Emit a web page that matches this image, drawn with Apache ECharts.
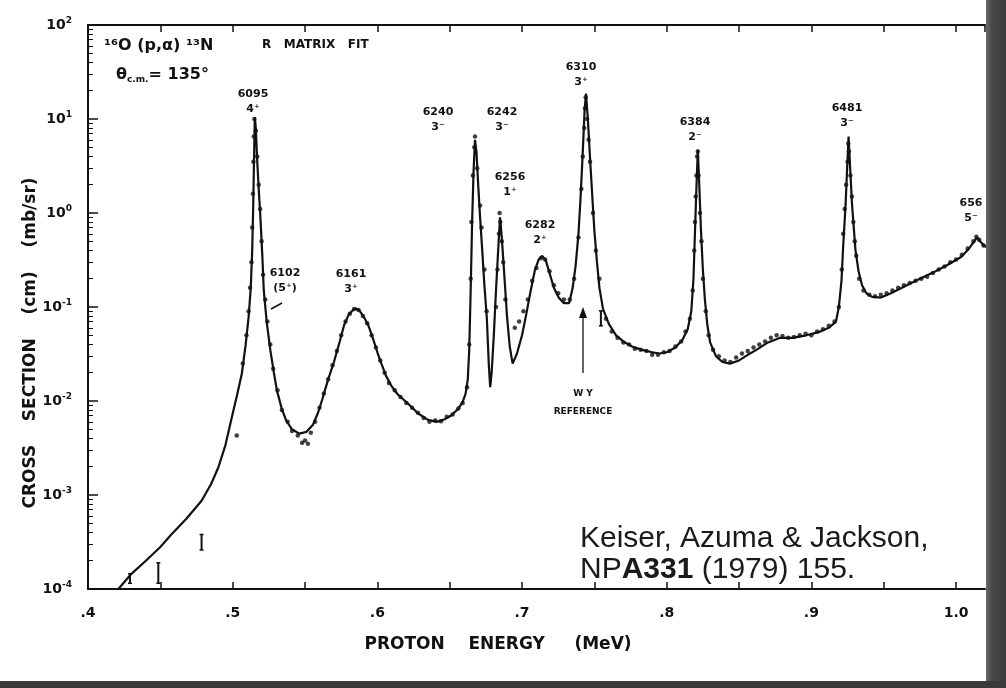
<!DOCTYPE html>
<html><head><meta charset="utf-8">
<script src="https://cdn.jsdelivr.net/npm/echarts@6/dist/echarts.min.js"></script>
<style>html,body{margin:0;padding:0;background:#fff}#c{width:1006px;height:688px}</style>
</head><body><div id="c"></div>
<script>
// R-matrix fit curve (proton energy in MeV, cross section in mb/sr)
const fitEnergy = [0.421,0.430,0.440,0.450,0.4576,0.468,0.4785,0.485,0.490,0.495,0.4993,0.503,0.5063,0.509,0.511,0.5125,0.5135,0.5142,0.5148,0.5153,0.516,0.5168,0.518,0.519,0.5205,0.5215,0.5235,0.526,0.5285,0.5306,0.534,0.537,0.541,0.546,0.551,0.5555,0.559,0.562,0.566,0.570,0.574,0.577,0.580,0.5835,0.5855,0.588,0.591,0.5937,0.597,0.600,0.6028,0.606,0.6097,0.614,0.6215,0.628,0.635,0.641,0.6465,0.651,0.656,0.659,0.661,0.6625,0.6635,0.6645,0.6655,0.6665,0.6675,0.6685,0.6697,0.671,0.6725,0.674,0.6757,0.677,0.678,0.679,0.6805,0.682,0.6835,0.6848,0.686,0.6875,0.6896,0.6915,0.6935,0.6965,0.700,0.703,0.706,0.709,0.7115,0.714,0.7165,0.719,0.722,0.7255,0.729,0.7326,0.735,0.737,0.739,0.7405,0.742,0.7432,0.7442,0.7455,0.7472,0.7488,0.750,0.7518,0.7535,0.756,0.760,0.765,0.770,0.776,0.783,0.790,0.795,0.800,0.806,0.811,0.8145,0.817,0.8185,0.8195,0.8205,0.8215,0.8225,0.8236,0.825,0.8264,0.828,0.830,0.834,0.8385,0.8437,0.850,0.856,0.862,0.870,0.8785,0.887,0.8965,0.905,0.912,0.917,0.919,0.9208,0.922,0.9236,0.9248,0.9257,0.9268,0.928,0.929,0.9305,0.9326,0.935,0.938,0.942,0.948,0.955,0.966,0.975,0.9847,0.994,1.0035,1.009,1.0125,1.0145,1.0165,1.0195,1.0215];
const fitCross = [1.0e-4,1.45e-4,2.0e-4,2.8e-4,3.8e-4,5.6e-4,8.7e-4,1.3e-3,1.95e-3,3.4e-3,6.6e-3,0.0115,0.0195,0.04,0.078,0.16,0.4,1.2,4.0,10.5,8.0,4.0,1.8,1.0,0.35,0.15,0.07,0.035,0.02,0.0129,0.0082,0.0062,0.005,0.0045,0.0047,0.0056,0.0075,0.0105,0.017,0.026,0.043,0.064,0.082,0.094,0.096,0.09,0.077,0.064,0.046,0.033,0.025,0.0185,0.0145,0.0118,0.0093,0.0074,0.0063,0.006,0.0064,0.007,0.0083,0.0098,0.012,0.017,0.035,0.15,0.8,2.8,6.0,4.5,2.0,0.9,0.4,0.17,0.075,0.025,0.014,0.02,0.05,0.15,0.4,0.9,0.55,0.25,0.08,0.038,0.025,0.032,0.05,0.085,0.15,0.25,0.32,0.35,0.31,0.23,0.16,0.125,0.11,0.11,0.16,0.27,0.6,1.5,4.5,12,18.6,10,3.4,1.3,0.65,0.3,0.16,0.095,0.066,0.05,0.043,0.038,0.035,0.033,0.032,0.033,0.037,0.045,0.058,0.09,0.2,0.6,1.8,4.7,2.0,0.7,0.25,0.12,0.066,0.042,0.03,0.026,0.025,0.027,0.031,0.035,0.042,0.047,0.047,0.05,0.054,0.06,0.07,0.1,0.19,0.45,1.2,3.2,6.5,3.0,1.3,0.8,0.4,0.24,0.17,0.14,0.128,0.126,0.14,0.17,0.2,0.235,0.28,0.34,0.42,0.5,0.55,0.5,0.45,0.43];
// measured points
const dataEnergy = [0.5028,0.507,0.5095,0.511,0.512,0.513,0.5135,0.514,0.5143,0.5146,0.515,0.516,0.517,0.518,0.519,0.520,0.521,0.5225,0.524,0.526,0.528,0.531,0.534,0.538,0.541,0.545,0.548,0.550,0.552,0.554,0.557,0.560,0.563,0.566,0.569,0.572,0.575,0.578,0.581,0.584,0.587,0.590,0.593,0.596,0.599,0.602,0.605,0.608,0.612,0.616,0.620,0.624,0.628,0.632,0.636,0.640,0.644,0.648,0.652,0.656,0.659,0.662,0.6635,0.6645,0.665,0.666,0.667,0.6675,0.669,0.671,0.672,0.674,0.6755,0.682,0.683,0.684,0.6845,0.685,0.686,0.687,0.6885,0.695,0.698,0.701,0.704,0.707,0.710,0.713,0.716,0.719,0.722,0.725,0.729,0.733,0.736,0.739,0.741,0.742,0.743,0.7435,0.744,0.745,0.746,0.747,0.749,0.751,0.7535,0.758,0.762,0.766,0.770,0.774,0.778,0.782,0.786,0.790,0.794,0.798,0.802,0.806,0.810,0.813,0.816,0.818,0.819,0.8195,0.820,0.8205,0.821,0.8215,0.822,0.823,0.824,0.825,0.827,0.829,0.832,0.836,0.840,0.844,0.848,0.852,0.856,0.860,0.864,0.868,0.872,0.876,0.880,0.884,0.888,0.892,0.896,0.900,0.904,0.908,0.912,0.916,0.919,0.921,0.922,0.923,0.924,0.925,0.9255,0.926,0.927,0.928,0.929,0.930,0.931,0.933,0.936,0.940,0.944,0.948,0.952,0.956,0.960,0.964,0.968,0.972,0.976,0.980,0.984,0.988,0.992,0.996,1.000,1.004,1.008,1.012,1.014,1.016,1.019];
const dataCross = [0.0043,0.025,0.05,0.09,0.16,0.3,0.7,1.6,3.5,6.5,10,7.5,4,2,1.1,0.5,0.22,0.12,0.07,0.04,0.022,0.013,0.008,0.006,0.0048,0.0043,0.0036,0.0038,0.0035,0.0046,0.006,0.0085,0.012,0.017,0.024,0.034,0.05,0.07,0.085,0.095,0.093,0.08,0.067,0.05,0.037,0.027,0.02,0.0155,0.013,0.011,0.0095,0.0085,0.0075,0.0066,0.006,0.0062,0.0061,0.0068,0.0072,0.0083,0.0095,0.014,0.04,0.2,0.8,2.5,5.0,6.5,3,1.2,0.7,0.25,0.09,0.1,0.25,0.6,1.0,0.8,0.5,0.3,0.12,0.06,0.07,0.09,0.12,0.19,0.26,0.33,0.32,0.24,0.17,0.14,0.12,0.12,0.2,0.55,1.8,4,8,13,17,10,6,3.5,1.0,0.4,0.2,0.075,0.055,0.047,0.042,0.04,0.036,0.035,0.034,0.031,0.031,0.033,0.034,0.038,0.043,0.055,0.075,0.15,0.4,0.8,1.5,2.5,4.0,4.5,2.5,1.0,0.5,0.2,0.09,0.05,0.035,0.03,0.027,0.026,0.029,0.032,0.034,0.037,0.04,0.043,0.047,0.05,0.049,0.047,0.048,0.05,0.052,0.05,0.055,0.058,0.063,0.07,0.1,0.25,0.6,1.1,2,3.5,5.5,4.5,2.5,1.5,0.8,0.5,0.35,0.2,0.15,0.135,0.13,0.135,0.14,0.15,0.16,0.17,0.18,0.19,0.2,0.21,0.23,0.25,0.27,0.3,0.32,0.36,0.42,0.5,0.56,0.52,0.45];
// error bars
const errEnergy = [0.429,0.4486,0.4785,0.7545];
const errLow = [1.15e-4,1.15e-4,2.6e-4,0.063];
const errHigh = [1.45e-4,1.9e-4,3.8e-4,0.091];
// axis tick labels
const xTickValues = [0.4,0.5,0.6,0.7,0.8,0.9,1.0];
const xTickLabels = ['.4','.5','.6','.7','.8','.9','1.0'];
const yTickExponents = [-4,-3,-2,-1,0,1,2];
// level labels
const peakNames = ['6095','6102','6161','6240','6242','6256','6282','6310','6384','6481','656'];
const peakSpins = ['4⁺','(5⁺)','3⁺','3⁻','3⁻','1⁺','2⁺','3⁺','2⁻','3⁻','5⁻'];

const labelPos = [[253,87],[285,266],[351,267],[438,105],[502,105],[510,170],[540,218],[581,60],[695,115],[847,101],[971,196]];

const chart = echarts.init(document.getElementById('c'), null, {renderer:'canvas'});
const F = 'DejaVu Sans';
const ink = '#111';

const graphics = [];
peakNames.forEach((n,i)=>{
  graphics.push({type:'text', x:labelPos[i][0], y:labelPos[i][1], z:10,
    style:{text:n+'\n'+peakSpins[i], fill:ink, font:'bold 11px "'+F+'"', textAlign:'center', lineHeight:15}});
});
// leader line for 6102
graphics.push({type:'line', z:10, shape:{x1:271,y1:309,x2:282,y2:303}, style:{stroke:ink, lineWidth:1.5}});
// reference arrow
graphics.push({type:'line', z:10, shape:{x1:583,y1:373,x2:583,y2:316}, style:{stroke:'#333', lineWidth:1.5}});
graphics.push({type:'polygon', z:10, shape:{points:[[583,307],[579,318],[587,318]]}, style:{fill:ink}});
graphics.push({type:'text', x:583, y:389, z:10, style:{text:'W Y', fill:ink, font:'bold 9px "'+F+'"', textAlign:'center'}});
graphics.push({type:'text', x:583, y:407, z:10, style:{text:'REFERENCE', fill:ink, font:'bold 9px "'+F+'"', textAlign:'center'}});
// header texts
graphics.push({type:'text', x:104, y:38, z:10, style:{text:'¹⁶O (p,α) ¹³N', fill:ink, font:'bold 16px "'+F+'"'}});
graphics.push({type:'text', x:116, y:66, z:10, style:{text:'{a|θ}{s|c.m.}{a|= 135°}', fill:ink,
  rich:{a:{fontFamily:F, fontWeight:'bold', fontSize:16, fill:ink}, s:{fontFamily:F, fontWeight:'bold', fontSize:9, fill:ink, padding:[9,0,0,0]}}}});
graphics.push({type:'text', x:262, y:39, z:10, style:{text:'R   MATRIX   FIT', fill:ink, font:'bold 12px "'+F+'"'}});
// axis titles
graphics.push({type:'text', x:498, y:645, z:10, style:{text:'PROTON    ENERGY     (MeV)', fill:ink, font:'bold 17px "'+F+'"', textAlign:'center', textVerticalAlign:'middle'}});
graphics.push({type:'text', x:31, y:343, rotation:Math.PI/2, z:10, style:{text:'CROSS    SECTION    (cm)    (mb/sr)', fill:ink, font:'bold 17px "'+F+'"', textAlign:'center', textVerticalAlign:'middle'}});
// citation
graphics.push({type:'text', x:580, y:524, z:20, style:{text:'Keiser, Azuma & Jackson,', fill:'#1a1a1a', font:'30px "Liberation Sans"'}});
graphics.push({type:'text', x:580, y:555, z:20, style:{text:'{n|NP}{b|A331}{n| (1979) 155.}', fill:'#1a1a1a',
  rich:{n:{fontFamily:'Liberation Sans', fontSize:30, fill:'#1a1a1a'}, b:{fontFamily:'Liberation Sans', fontSize:30, fontWeight:'bold', fill:'#1a1a1a'}}}});
// page frame shadow
graphics.push({type:'rect', z:30, shape:{x:986,y:0,width:20,height:688}, style:{fill:new echarts.graphic.LinearGradient(0,0,1,0,[{offset:0,color:'#6a6a6a'},{offset:0.3,color:'#474747'},{offset:1,color:'#3c3c3c'}])}});
graphics.push({type:'rect', z:30, shape:{x:0,y:681,width:1006,height:7}, style:{fill:'#3a3a3a'}});

const xAxisBase = {type:'value', min:0.4, max:1.02, interval:0.05,
  axisLine:{show:true, lineStyle:{color:ink, width:2}},
  axisTick:{show:true, inside:true, length:7, lineStyle:{color:ink, width:1.5}},
  splitLine:{show:false}};

chart.setOption({
  animation:false,
  backgroundColor:'#fff',
  grid:{left:88, right:21, top:25, bottom:99, show:false},
  xAxis:[
    Object.assign({}, xAxisBase, {position:'bottom',
      axisLabel:{show:true, margin:17, color:ink, fontFamily:F, fontWeight:'bold', fontSize:14, showMaxLabel:false,
        formatter:function(v){const i=xTickValues.findIndex(t=>Math.abs(t-v)<1e-6);return i>=0?xTickLabels[i]:'';}}}),
    Object.assign({}, xAxisBase, {position:'top', axisLabel:{show:false}})
  ],
  yAxis:{type:'log', logBase:10, min:1e-4, max:100, splitNumber:6,
    axisLine:{show:true, lineStyle:{color:ink, width:2}},
    axisTick:{show:true, inside:true, length:10, lineStyle:{color:ink, width:1.5}},
    minorTick:{show:true, splitNumber:9, length:5, lineStyle:{color:ink, width:1}},
    splitLine:{show:false},
    axisLabel:{margin:16, color:ink,
      formatter:function(v){const e=Math.round(Math.log10(v)); if(!yTickExponents.includes(e)) return ''; return '{b|10}{s|'+e+'}';},
      rich:{b:{fontFamily:F, fontWeight:'bold', fontSize:14, color:ink}, s:{fontFamily:F, fontWeight:'bold', fontSize:9, color:ink, padding:[0,0,9,0]}}}},
  graphic:graphics,
  series:[
    {type:'line', name:'R-matrix fit', data:fitEnergy.map((x,i)=>[x,fitCross[i]]), showSymbol:false, symbol:'none',
      lineStyle:{color:ink, width:2.2}, z:3, clip:true},
    {type:'scatter', name:'data', data:dataEnergy.map((x,i)=>[x,dataCross[i]]), symbolSize:4.5, itemStyle:{color:ink}, z:4},
    {type:'custom', name:'errors', data:errEnergy.map((x,i)=>[x,errLow[i],errHigh[i]]), z:4,
      renderItem:function(params, api){
        const lo=api.coord([api.value(0),api.value(1)]);
        const hi=api.coord([api.value(0),api.value(2)]);
        return {type:'group', children:[
          {type:'line', shape:{x1:lo[0],y1:lo[1],x2:hi[0],y2:hi[1]}, style:{stroke:ink, lineWidth:2}},
          {type:'line', shape:{x1:lo[0]-2,y1:lo[1],x2:lo[0]+2,y2:lo[1]}, style:{stroke:ink, lineWidth:1.5}},
          {type:'line', shape:{x1:hi[0]-2,y1:hi[1],x2:hi[0]+2,y2:hi[1]}, style:{stroke:ink, lineWidth:1.5}}
        ]};
      }}
  ]
});
</script></body></html>
